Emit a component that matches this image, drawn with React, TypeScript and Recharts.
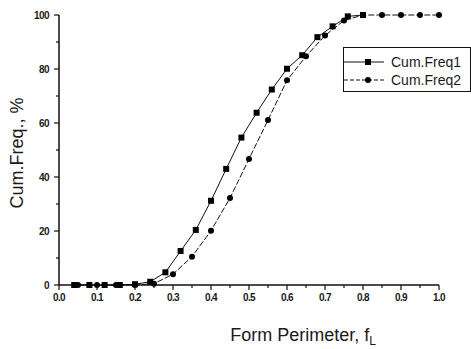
import React from 'react';
import { LineChart, Line, XAxis, YAxis } from 'recharts';

const freq1X = [0.04, 0.08, 0.12, 0.16, 0.2, 0.24, 0.28, 0.32, 0.36, 0.4, 0.44, 0.48, 0.52, 0.56, 0.6, 0.64, 0.68, 0.72, 0.76, 0.8];
const freq1Y = [0, 0, 0, 0, 0.3, 1.2, 4.7, 12.6, 20.4, 31.2, 43, 54.6, 63.8, 72.4, 80.1, 85.1, 91.8, 95.8, 99.5, 100];
const freq2X = [0.05, 0.1, 0.15, 0.2, 0.25, 0.3, 0.35, 0.4, 0.45, 0.5, 0.55, 0.6, 0.65, 0.7, 0.75, 0.8, 0.85, 0.9, 0.95, 1.0];
const freq2Y = [0, 0, 0, 0, 0.5, 4, 10.5, 20.1, 32.2, 46.7, 61.1, 75.8, 84.7, 92.4, 98, 100, 100, 100, 100, 100];
const xTicks = [0, 0.05, 0.1, 0.15, 0.2, 0.25, 0.3, 0.35, 0.4, 0.45, 0.5, 0.55, 0.6, 0.65, 0.7, 0.75, 0.8, 0.85, 0.9, 0.95, 1.0];
const yTicks = [0, 10, 20, 30, 40, 50, 60, 70, 80, 90, 100];
const seriesNames = ['Cum.Freq1', 'Cum.Freq2'];

const data1 = freq1X.map((x, i) => ({ x, y: freq1Y[i] }));
const data2 = freq2X.map((x, i) => ({ x, y: freq2Y[i] }));

const FONT = '"Liberation Sans", Arial, sans-serif';

const XTick = (props: any) => {
  const { x, y, payload } = props;
  const v = payload.value as number;
  const major = Math.round(v * 100) % 10 === 0;
  return (
    <g>
      <line x1={x} x2={x} y1={y} y2={y + (major ? 5 : 3)} stroke="#111" strokeWidth={1.2} />
      {major && (
        <text x={x} y={y + 16} textAnchor="middle" fontSize={10} fontWeight="bold" letterSpacing={-0.6} fontFamily={FONT} fill="#1a1a1a">
          {v.toFixed(1)}
        </text>
      )}
    </g>
  );
};

const YTick = (props: any) => {
  const { x, y, payload } = props;
  const v = payload.value as number;
  const major = v % 20 === 0;
  return (
    <g>
      <line x1={x} x2={x - (major ? 5 : 3)} y1={y} y2={y} stroke="#111" strokeWidth={1.2} />
      {major && (
        <text x={x - 10} y={y + 3.5} textAnchor="end" fontSize={10} fontWeight="bold" letterSpacing={-0.6} fontFamily={FONT} fill="#1a1a1a">
          {v}
        </text>
      )}
    </g>
  );
};

const SquareDot = (props: any) => {
  const { cx, cy, index } = props;
  if (cx == null || cy == null) return <g key={`s${index}`} />;
  return <rect key={`s${index}`} x={cx - 3} y={cy - 3} width={6} height={6} fill="#000" />;
};

const XLabel = (props: any) => {
  const { viewBox } = props;
  const vx = viewBox.x + 244;
  const vy = viewBox.y + 56;
  return (
    <text x={vx} y={vy} textAnchor="middle" fontSize={18} fontFamily={FONT} fill="#1a1a1a">
      Form Perimeter, f
      <tspan fontSize={12} dy={4}>L</tspan>
    </text>
  );
};

const YLabel = (props: any) => {
  const { viewBox } = props;
  const cx = 23;
  const cy = viewBox.y + viewBox.height / 2 + 3;
  return (
    <text x={cx} y={cy} transform={`rotate(-90 ${cx} ${cy})`} textAnchor="middle" fontSize={18} fontFamily={FONT} fill="#1a1a1a">
      Cum.Freq., %
    </text>
  );
};

const LegendBox = () => (
  <div
    style={{
      position: 'absolute',
      left: 343,
      top: 47,
      width: 126,
      height: 43,
      border: '1px solid #111',
      background: '#fff',
      fontFamily: FONT,
      fontSize: 14,
      color: '#1a1a1a',
    }}
  >
    {seriesNames.map((name, i) => (
      <div key={name} style={{ position: 'absolute', left: 0, top: i === 0 ? 5 : 23, height: 18, display: 'flex', alignItems: 'center' }}>
        <svg width={42} height={18}>
          <line x1={0} x2={40} y1={9} y2={9} stroke="#111" strokeWidth={1} strokeDasharray={i === 0 ? undefined : '4 2'} />
          {i === 0 ? <rect x={21} y={6} width={6} height={6} fill="#000" /> : <circle cx={24} cy={9} r={3} fill="#000" />}
        </svg>
        <span style={{ marginLeft: 5 }}>{name}</span>
      </div>
    ))}
  </div>
);

export default function App() {
  return (
    <div style={{ position: 'absolute', left: 0, top: 0, width: 471, height: 349, background: '#fff' }}>
      <LineChart width={471} height={349} margin={{ top: 15, right: 32, bottom: 0, left: 0 }}>
        <XAxis
          dataKey="x"
          type="number"
          domain={[0, 1]}
          ticks={xTicks}
          interval={0}
          tickSize={0}
          tickMargin={0}
          tickLine={false}
          tick={<XTick />}
          height={64}
          stroke="#111"
          strokeWidth={1.5}
          allowDuplicatedCategory={false}
          label={<XLabel />}
        />
        <YAxis
          dataKey="y"
          type="number"
          domain={[0, 100]}
          ticks={yTicks}
          interval={0}
          tickSize={0}
          tickMargin={0}
          tickLine={false}
          tick={<YTick />}
          width={59}
          stroke="#111"
          strokeWidth={1.5}
          label={<YLabel />}
        />
        <Line
          data={data1}
          dataKey="y"
          name={seriesNames[0]}
          stroke="#111"
          strokeWidth={1}
          dot={<SquareDot />}
          isAnimationActive={false}
        />
        <Line
          data={data2}
          dataKey="y"
          name={seriesNames[1]}
          stroke="#111"
          strokeWidth={1}
          strokeDasharray="6 2"
          dot={{ r: 3, fill: '#000', stroke: '#000', strokeWidth: 0 }}
          isAnimationActive={false}
        />
      </LineChart>
      <LegendBox />
    </div>
  );
}
